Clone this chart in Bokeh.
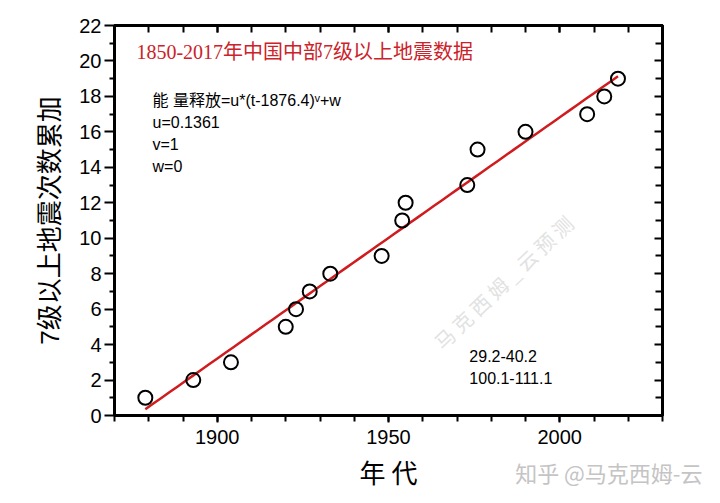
import numpy as np
from bokeh.plotting import figure
from bokeh.models import Range1d, LinearAxis, FixedTicker, Label, CustomJSTickFormatter, Title
from bokeh.embed import file_html
from bokeh.resources import INLINE

# ---- data ----
years = [1879, 1893, 1904, 1920, 1923, 1927, 1933, 1948, 1954, 1955,
         1973, 1976, 1990, 2008, 2013, 2017]
counts = [1, 2, 3, 5, 6, 7, 8, 9, 11, 12, 13, 15, 16, 17, 18, 19]
u_param, v_param, w_param, t0 = 0.1361, 1, 0, 1876.4
x_major = [1900, 1950, 2000]
x_minor = [1870, 1880, 1890, 1900, 1910, 1920, 1930, 1940, 1950,
           1960, 1970, 1980, 1990, 2000, 2010, 2020, 2030]
y_major = [0, 2, 4, 6, 8, 10, 12, 14, 16, 18, 20, 22]
y_minor = [1, 3, 5, 7, 9, 11, 13, 15, 17, 19, 21]

title_text = "1850-2017年中国中部7级以上地震数据"
formula_lines = ["能 量释放=u*(t-1876.4)ᵛ+w", "u=0.1361", "v=1", "w=0"]
region_lines = ["29.2-40.2", "100.1-111.1"]
x_label = "年 代"
y_label = "7级以上地震次数累加"
credit = "知乎 @马克西姆-云"

fit_t = np.linspace(years[0], years[-1], 60)
fit_y = u_param * (fit_t - t0) ** v_param + w_param

SANS = "Liberation Sans, Noto Sans CJK SC"
CJK = "Noto Sans CJK SC"
SERIF = "Liberation Serif, Noto Sans CJK SC"

W = 712
p = figure(width=W, height=495, x_range=Range1d(1870, 2030), y_range=Range1d(0, 22),
           output_backend="svg", toolbar_location=None,
           min_border_left=114, min_border_right=50, min_border_top=25, min_border_bottom=80)
p.grid.visible = False
p.outline_line_color = "black"
p.outline_line_width = 3

xt = FixedTicker(ticks=x_major, minor_ticks=x_minor)
yt = FixedTicker(ticks=y_major, minor_ticks=y_minor)

xa = p.xaxis[0]
xa.ticker = xt
xa.axis_line_width = 3
xa.major_tick_line_width = 2
xa.minor_tick_line_width = 2
xa.major_tick_in = 0
xa.major_tick_out = 7
xa.minor_tick_in = 0
xa.minor_tick_out = 6
xa.major_label_text_font = SANS
xa.major_label_text_font_size = "20px"
xa.major_label_text_color = "black"
xa.major_label_standoff = 7
xa.axis_label = x_label
xa.axis_label_text_font = CJK
xa.axis_label_text_font_size = "26px"
xa.axis_label_text_font_style = "normal"
xa.axis_label_text_color = "black"
xa.axis_label_standoff = 6

ya = p.yaxis[0]
ya.ticker = yt
ya.axis_line_width = 3
ya.major_tick_line_width = 2
ya.minor_tick_line_width = 2
ya.major_tick_in = 0
ya.major_tick_out = 10
ya.minor_tick_in = 0
ya.minor_tick_out = 5
ya.major_label_text_font = SANS
ya.major_label_text_font_size = "20px"
ya.major_label_text_color = "black"
ya.major_label_standoff = 3
ya.axis_label = y_label
ya.axis_label_text_font = SANS
ya.axis_label_text_font_size = "26px"
ya.axis_label_text_font_style = "normal"
ya.axis_label_text_color = "black"
ya.axis_label_standoff = 11

blank = CustomJSTickFormatter(code="return ''")
top = LinearAxis(ticker=xt, formatter=blank, axis_line_width=3,
                 major_tick_in=7, major_tick_out=0, minor_tick_in=7, minor_tick_out=0,
                 major_tick_line_width=2, minor_tick_line_width=2,
                 major_label_text_font_size="0px", major_label_standoff=0)
p.add_layout(top, "above")
right = LinearAxis(ticker=yt, formatter=blank, axis_line_width=3,
                   major_tick_in=8, major_tick_out=0, minor_tick_in=7, minor_tick_out=0,
                   major_tick_line_width=2, minor_tick_line_width=2,
                   major_label_text_font_size="0px", major_label_standoff=0)
p.add_layout(right, "right")

# faint diagonal watermark
p.add_layout(Label(x=1984, y=7.6, text="马 克 西 姆 _ 云  预 测", angle=0.76,
                   text_align="center", text_baseline="middle", text_font=CJK,
                   text_font_size="20px", text_color="#e2e2e2"))

p.line(fit_t, fit_y, line_color="#d01c1f", line_width=2.5)
p.scatter(years, counts, marker="circle", size=14, fill_color=None,
          line_color="black", line_width=2)

p.add_layout(Label(x=1876.4, y=20.53, text=title_text, text_font=SERIF,
                   text_font_size="20px", text_color="#cc2229",
                   text_align="left", text_baseline="middle"))

fy = [17.77, 16.53, 15.29, 14.04]
for line_text, yy in zip(formula_lines, fy):
    p.add_layout(Label(x=1881.1, y=yy, text=line_text, text_font=SANS,
                       text_font_size="16px", text_color="black",
                       text_align="left", text_baseline="middle"))

ry = [3.33, 2.14]
for line_text, yy in zip(region_lines, ry):
    p.add_layout(Label(x=1973.6, y=yy, text=line_text, text_font=SANS,
                       text_font_size="16px", text_color="black",
                       text_align="left", text_baseline="middle"))

# credit line at the bottom right, as a title below the x axis
p.add_layout(Title(text=credit, align="right", vertical_align="top",
                   offset=-40, standoff=-74,
                   text_font=CJK, text_font_size="22px", text_color="#c4c4c4",
                   text_font_style="normal"), "below")

open("out.html", "w").write(file_html(p, INLINE))
